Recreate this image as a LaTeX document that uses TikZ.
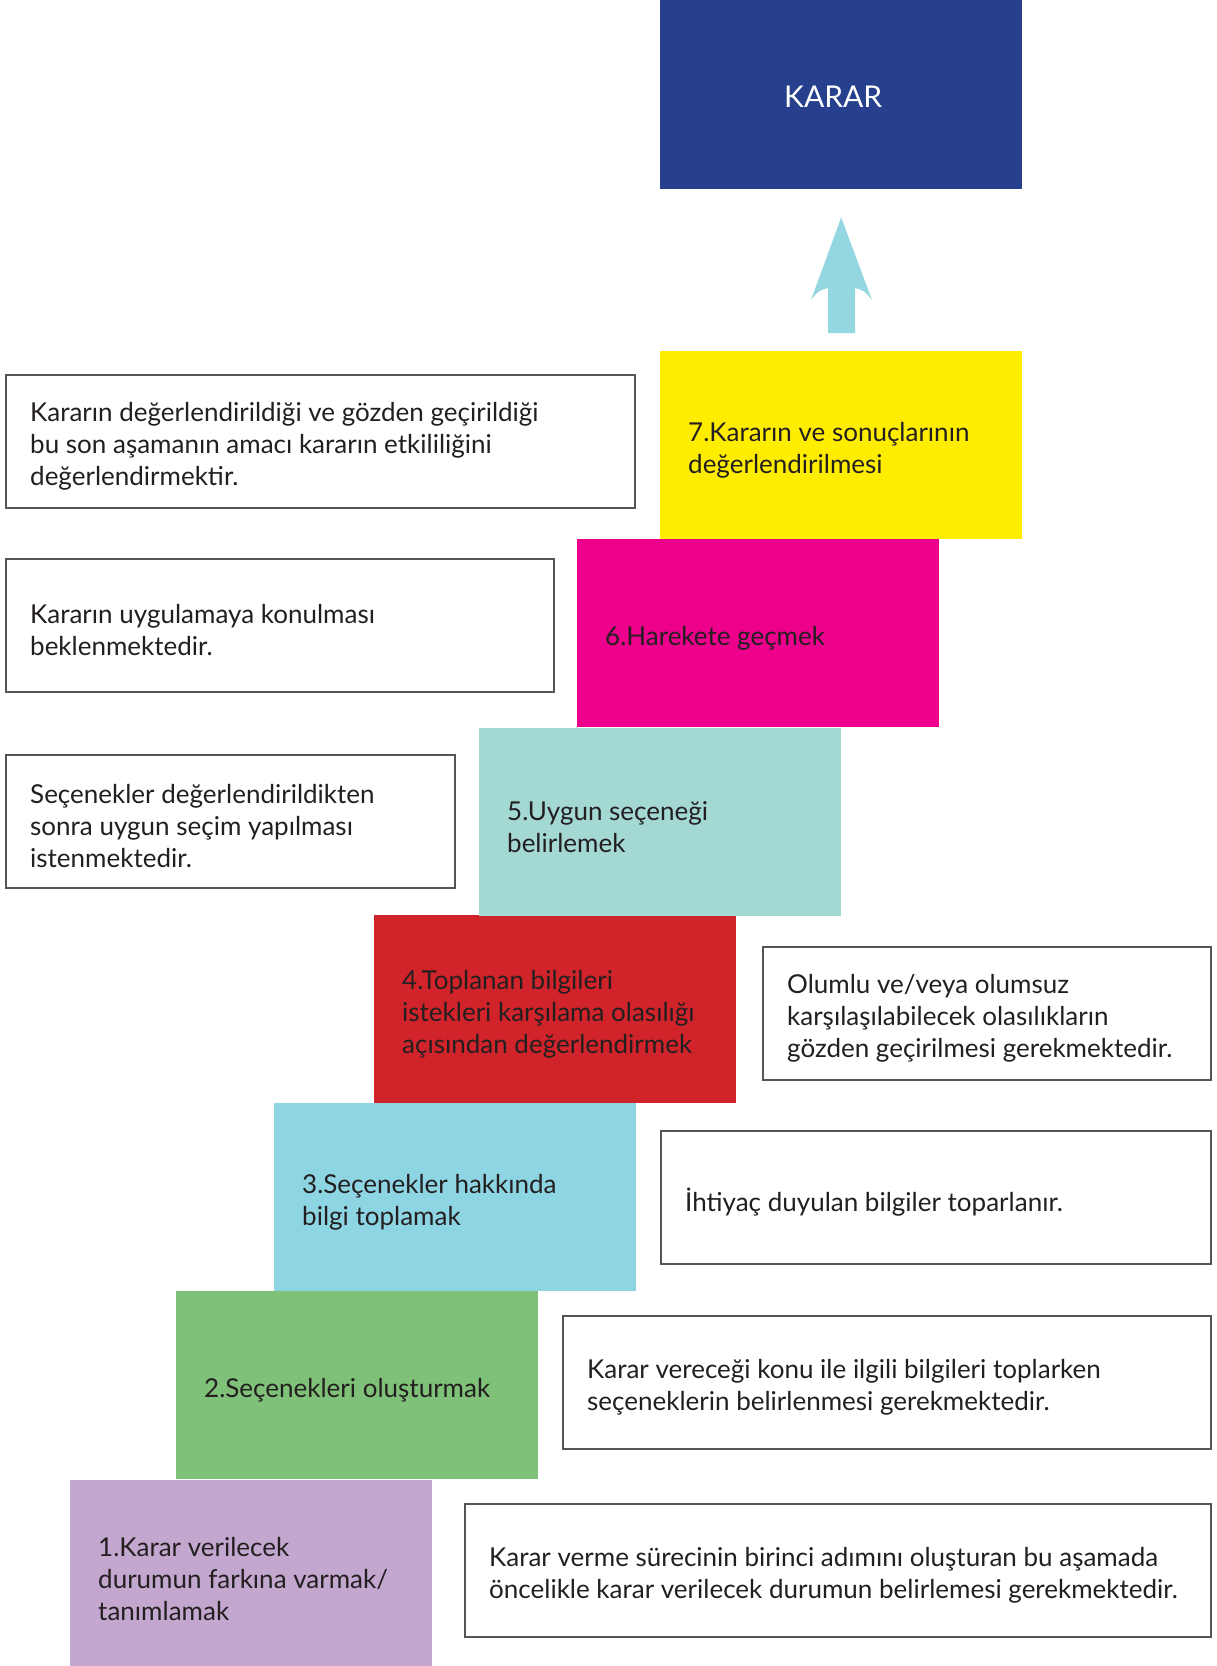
\documentclass[tikz,border=0pt]{standalone}
\usepackage{fontspec}
\setmainfont{Lato}
\usetikzlibrary{calc}
\definecolor{kararblue}{RGB}{38,64,142}
\definecolor{arrowcyan}{RGB}{149,215,224}
\definecolor{c7}{RGB}{255,237,0}
\definecolor{c6}{RGB}{236,0,140}
\definecolor{c5}{RGB}{163,216,211}
\definecolor{c4}{RGB}{208,35,42}
\definecolor{c3}{RGB}{141,213,227}
\definecolor{c2}{RGB}{127,193,120}
\definecolor{c1}{RGB}{195,167,207}
\definecolor{textc}{RGB}{35,31,32}
\definecolor{borderc}{RGB}{85,85,85}
% #1 name, #2 colour, #3 x, #4 y, #5 text
\newcommand{\mkstep}[5]{%
  \node[stepbox, fill=#2] (#1) at (#3,#4) {};
  \node[boxtext] (#1text) at ($(#1.west)+(28,5)$) {#5};}
% #1 name, #2 width, #3 x, #4 y, #5 text
\newcommand{\mknote}[5]{%
  \node[notebox, minimum width=#2pt] (#1) at (#3,#4) {};
  \node[boxtext] (#1text) at ($(#1.west)+(24,5)$) {#5};}
\begin{document}
\begin{tikzpicture}[x=1pt,y=-1pt,
  stepbox/.style={rectangle, anchor=north west, outer sep=0pt, inner sep=0pt,
    minimum width=362pt, minimum height=188pt},
  notebox/.style={rectangle, anchor=north west, outer sep=0pt, inner sep=0pt,
    draw=borderc, line width=1.2pt, fill=white, minimum height=133pt},
  boxtext/.style={anchor=west, inner sep=0pt, align=left, text=textc,
    font=\fontsize{26}{32}\selectfont}]
\useasboundingbox (0,0) rectangle (1217,1666);

% top decision box
\node[rectangle, anchor=north west, fill=kararblue, minimum width=362pt,
  minimum height=189pt, inner sep=0pt] (karar) at (660,0) {};
\node[text=white, inner sep=0pt, font=\fontsize{30}{36}\selectfont]
  (kararlabel) at ($(karar.center)+(-8,2)$) {KARAR};

% steps
\node[stepbox, fill=c1, minimum height=190pt] (s1) at (70,1480) {};
\node[boxtext] (s1text) at ($(s1.west)+(28,4)$) {1.Karar verilecek\\durumun farkına varmak/\\tanımlamak};
\mkstep{s2}{c2}{176}{1291}{2.Seçenekleri oluşturmak}
\mkstep{s3}{c3}{274}{1103}{3.Seçenekler hakkında\\bilgi toplamak}
\mkstep{s4}{c4}{374}{915}{4.Toplanan bilgileri\\istekleri karşılama olasılığı\\açısından değerlendirmek}
\mkstep{s5}{c5}{479}{728}{5.Uygun seçeneği\\belirlemek}
\mkstep{s6}{c6}{577}{539}{6.Harekete geçmek}
\mkstep{s7}{c7}{660}{351}{7.Kararın ve sonuçlarının\\değerlendirilmesi}

% notes
\mknote{t7}{629}{6}{375}{Kararın değerlendirildiği ve gözden geçirildiği\\bu son aşamanın amacı kararın etkililiğini\\değerlendirmektir.}
\mknote{t6}{548}{6}{559}{Kararın uygulamaya konulması\\beklenmektedir.}
\mknote{t5}{449}{6}{755}{Seçenekler değerlendirildikten\\sonra uygun seçim yapılması\\istenmektedir.}
\mknote{t4}{448}{763}{947}{Olumlu ve/veya olumsuz\\karşılaşılabilecek olasılıkların\\gözden geçirilmesi gerekmektedir.}
\mknote{t3}{550}{661}{1131}{İhtiyaç duyulan bilgiler toparlanır.}
\mknote{t2}{648}{563}{1316}{Karar vereceği konu ile ilgili bilgileri toplarken\\seçeneklerin belirlenmesi gerekmektedir.}
\mknote{t1}{746}{465}{1504}{Karar verme sürecinin birinci adımını oluşturan bu aşamada\\öncelikle karar verilecek durumun belirlemesi gerekmektedir.}

% arrow from step 7 to KARAR
\coordinate (abase) at ($(s7.north)+(0,-18)$);
\coordinate (atip) at ($(karar.south)+(0,28)$);
\fill[arrowcyan] (atip) -- ($(abase)+(31,-33)$)
  .. controls ($(abase)+(24,-42)$) .. ($(abase)+(14,-45)$)
  -- ($(abase)+(14,0)$) -- ($(abase)+(-13,0)$) -- ($(abase)+(-13,-45)$)
  .. controls ($(abase)+(-23,-42)$) .. ($(abase)+(-30,-33)$) -- cycle;
\end{tikzpicture}
\end{document}
